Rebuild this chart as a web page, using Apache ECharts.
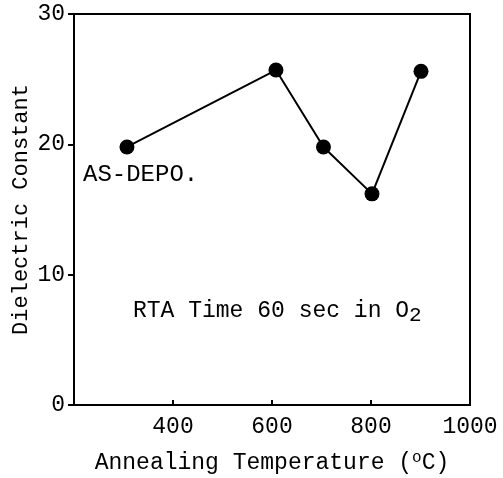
<!DOCTYPE html>
<html>
<head>
<meta charset="utf-8">
<script src="https://cdn.jsdelivr.net/npm/echarts@6/dist/echarts.min.js"></script>
<style>
html,body{margin:0;padding:0;background:#fff;}
#chart{width:503px;height:478px;}
</style>
</head>
<body>
<div id="chart"></div>
<script>
// Data
var annealTemps = [307, 608, 704, 802, 901];
var dielectricConstant = [19.8, 25.7, 19.8, 16.2, 25.6];
var xTicks = [400, 600, 800, 1000];
var yTicks = [0, 10, 20, 30];

var FONT = '"Liberation Mono", "DejaVu Sans Mono", monospace';
var chart = echarts.init(document.getElementById('chart'));

var points = annealTemps.map(function (t, i) { return [t, dielectricConstant[i]]; });

chart.setOption({
  animation: false,
  backgroundColor: '#fff',
  grid: {
    left: 74, right: 33, top: 14, bottom: 73,
    outerBoundsMode: 'none', containLabel: false,
    show: true, borderColor: '#000', borderWidth: 2, backgroundColor: 'transparent'
  },
  xAxis: {
    type: 'value', min: 200, max: 1000, interval: 200,
    name: 'Annealing Temperature ({sup|o}C)',
    nameLocation: 'middle', nameGap: 45, nameMoveOverlap: false,
    nameTextStyle: {
      fontFamily: FONT, fontSize: 23, color: '#000',
      rich: { sup: { fontFamily: FONT, fontSize: 16, color: '#000', verticalAlign: 'top', padding: [0, 0, 10, 0] } }
    },
    axisLine: { show: true, lineStyle: { color: '#000', width: 2 } },
    axisTick: { show: true, inside: true, length: 5, lineStyle: { color: '#000', width: 2 } },
    axisLabel: {
      showMinLabel: false, margin: 10, fontFamily: FONT, fontSize: 23, color: '#000',
      formatter: function (v) { return xTicks.indexOf(v) >= 0 ? String(v) : ''; }
    },
    splitLine: { show: false }
  },
  yAxis: {
    type: 'value', min: 0, max: 30, interval: 10,
    name: 'Dielectric Constant',
    nameLocation: 'middle', nameGap: 42, nameMoveOverlap: false,
    nameTextStyle: { fontFamily: FONT, fontSize: 22, color: '#000' },
    axisLine: { show: true, lineStyle: { color: '#000', width: 2 } },
    axisTick: { show: true, inside: false, length: 6, lineStyle: { color: '#000', width: 2 } },
    axisLabel: {
      margin: 9, fontFamily: FONT, fontSize: 23, color: '#000',
      formatter: function (v) { return yTicks.indexOf(v) >= 0 ? String(v) : ''; }
    },
    splitLine: { show: false }
  },
  series: [{
    type: 'line',
    data: points,
    symbol: 'circle',
    symbolSize: 15,
    itemStyle: { color: '#000' },
    lineStyle: { color: '#000', width: 2 }
  }],
  graphic: [
    {
      type: 'text', left: 83, top: 163,
      style: { text: 'AS-DEPO.', font: '24px ' + FONT, fill: '#000' }
    },
    {
      type: 'text', left: 133, top: 299,
      style: {
        text: 'RTA Time 60 sec in O{sub|2}',
        font: '23px ' + FONT, fill: '#000',
        rich: { sub: { fontFamily: FONT, fontSize: 21, fill: '#000', padding: [10, 0, 0, 0] } }
      }
    }
  ]
});
</script>
</body>
</html>
